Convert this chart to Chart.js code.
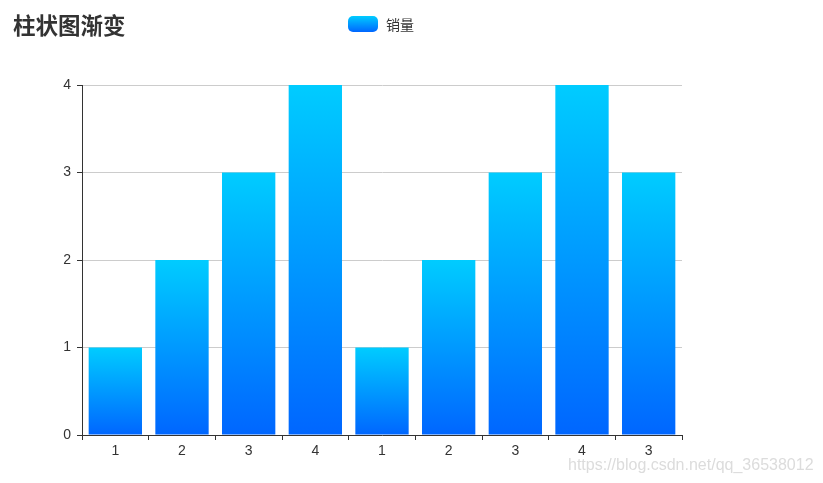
<!DOCTYPE html>
<html>
<head>
<meta charset="utf-8">
<script src="https://cdn.jsdelivr.net/npm/chart.js@4.4.0/dist/chart.umd.min.js"></script>
<style>
  body { margin: 0; background: #fff; font-family: "Noto Sans CJK SC", "Noto Sans", sans-serif; }
  #wrap { position: relative; width: 823px; height: 483px; overflow: hidden; }
  canvas { display: block; }
  #title { position: absolute; left: 13px; top: 8px; font-size: 22.5px; font-weight: bold; color: #333; }
  #legend { position: absolute; left: 348px; top: 14px; font-size: 14px; color: #333; display: flex; align-items: center; }
  #legend .icon { width: 30px; height: 16px; border-radius: 5px; background: linear-gradient(#00ccff, #0066ff); margin-right: 8px; }
  #mark { position: absolute; left: 568px; top: 456px; font-size: 16px; color: #dcdcdc; font-family: "Liberation Sans", sans-serif; }
</style>
</head>
<body>
<div id="wrap">
  <canvas id="mycanvas" width="823" height="483"></canvas>
  <div id="title">柱状图渐变</div>
  <div id="legend"><span class="icon"></span>销量</div>
  <div id="mark">https://blog.csdn.net/qq_36538012</div>
</div>
<script>
var categories = ['1', '2', '3', '4', '1', '2', '3', '4', '3'];
var sales = [1, 2, 3, 4, 1, 2, 3, 4, 3];
var yTicks = [0, 1, 2, 3, 4];

function barGradient(context) {
  var chart = context.chart;
  var y = chart.scales.y;
  if (!y || context.dataIndex === undefined) return '#0099ff';
  var v = context.dataset.data[context.dataIndex];
  var top = y.getPixelForValue(v);
  var bottom = y.getPixelForValue(0);
  if (!isFinite(top) || !isFinite(bottom)) return '#0099ff';
  var g = chart.ctx.createLinearGradient(0, top, 0, bottom);
  g.addColorStop(0, '#00ccff');
  g.addColorStop(1, '#0066ff');
  return g;
}

var ctx = document.getElementById('mycanvas');
var barGraph = new Chart(ctx, {
  type: 'bar',
  data: {
    labels: categories,
    datasets: [{
      label: '销量',
      data: sales,
      backgroundColor: barGradient,
      barPercentage: 0.8,
      categoryPercentage: 1
    }]
  },
  options: {
    responsive: false,
    animation: false,
    layout: { padding: { left: 0, right: 141, top: 85, bottom: 0 } },
    plugins: { legend: { display: false }, tooltip: { enabled: false } },
    scales: {
      x: {
        afterFit: function(scale) { scale.height = 48; },
        grid: { offset: true, drawOnChartArea: false, tickLength: 5, tickColor: '#333' },
        border: { color: '#333', width: 1 },
        ticks: { color: '#333', font: { size: 14 }, padding: 3 }
      },
      y: {
        min: 0,
        max: 4,
        afterFit: function(scale) { scale.width = 82; },
        afterBuildTicks: function(scale) { scale.ticks = yTicks.map(function(v) { return { value: v }; }); },
        grid: { color: '#cccccc', tickLength: 5, tickColor: '#333' },
        border: { color: '#333', width: 1 },
        ticks: { color: '#333', font: { size: 14 }, padding: 6 }
      }
    }
  }
});
</script>
</body>
</html>
